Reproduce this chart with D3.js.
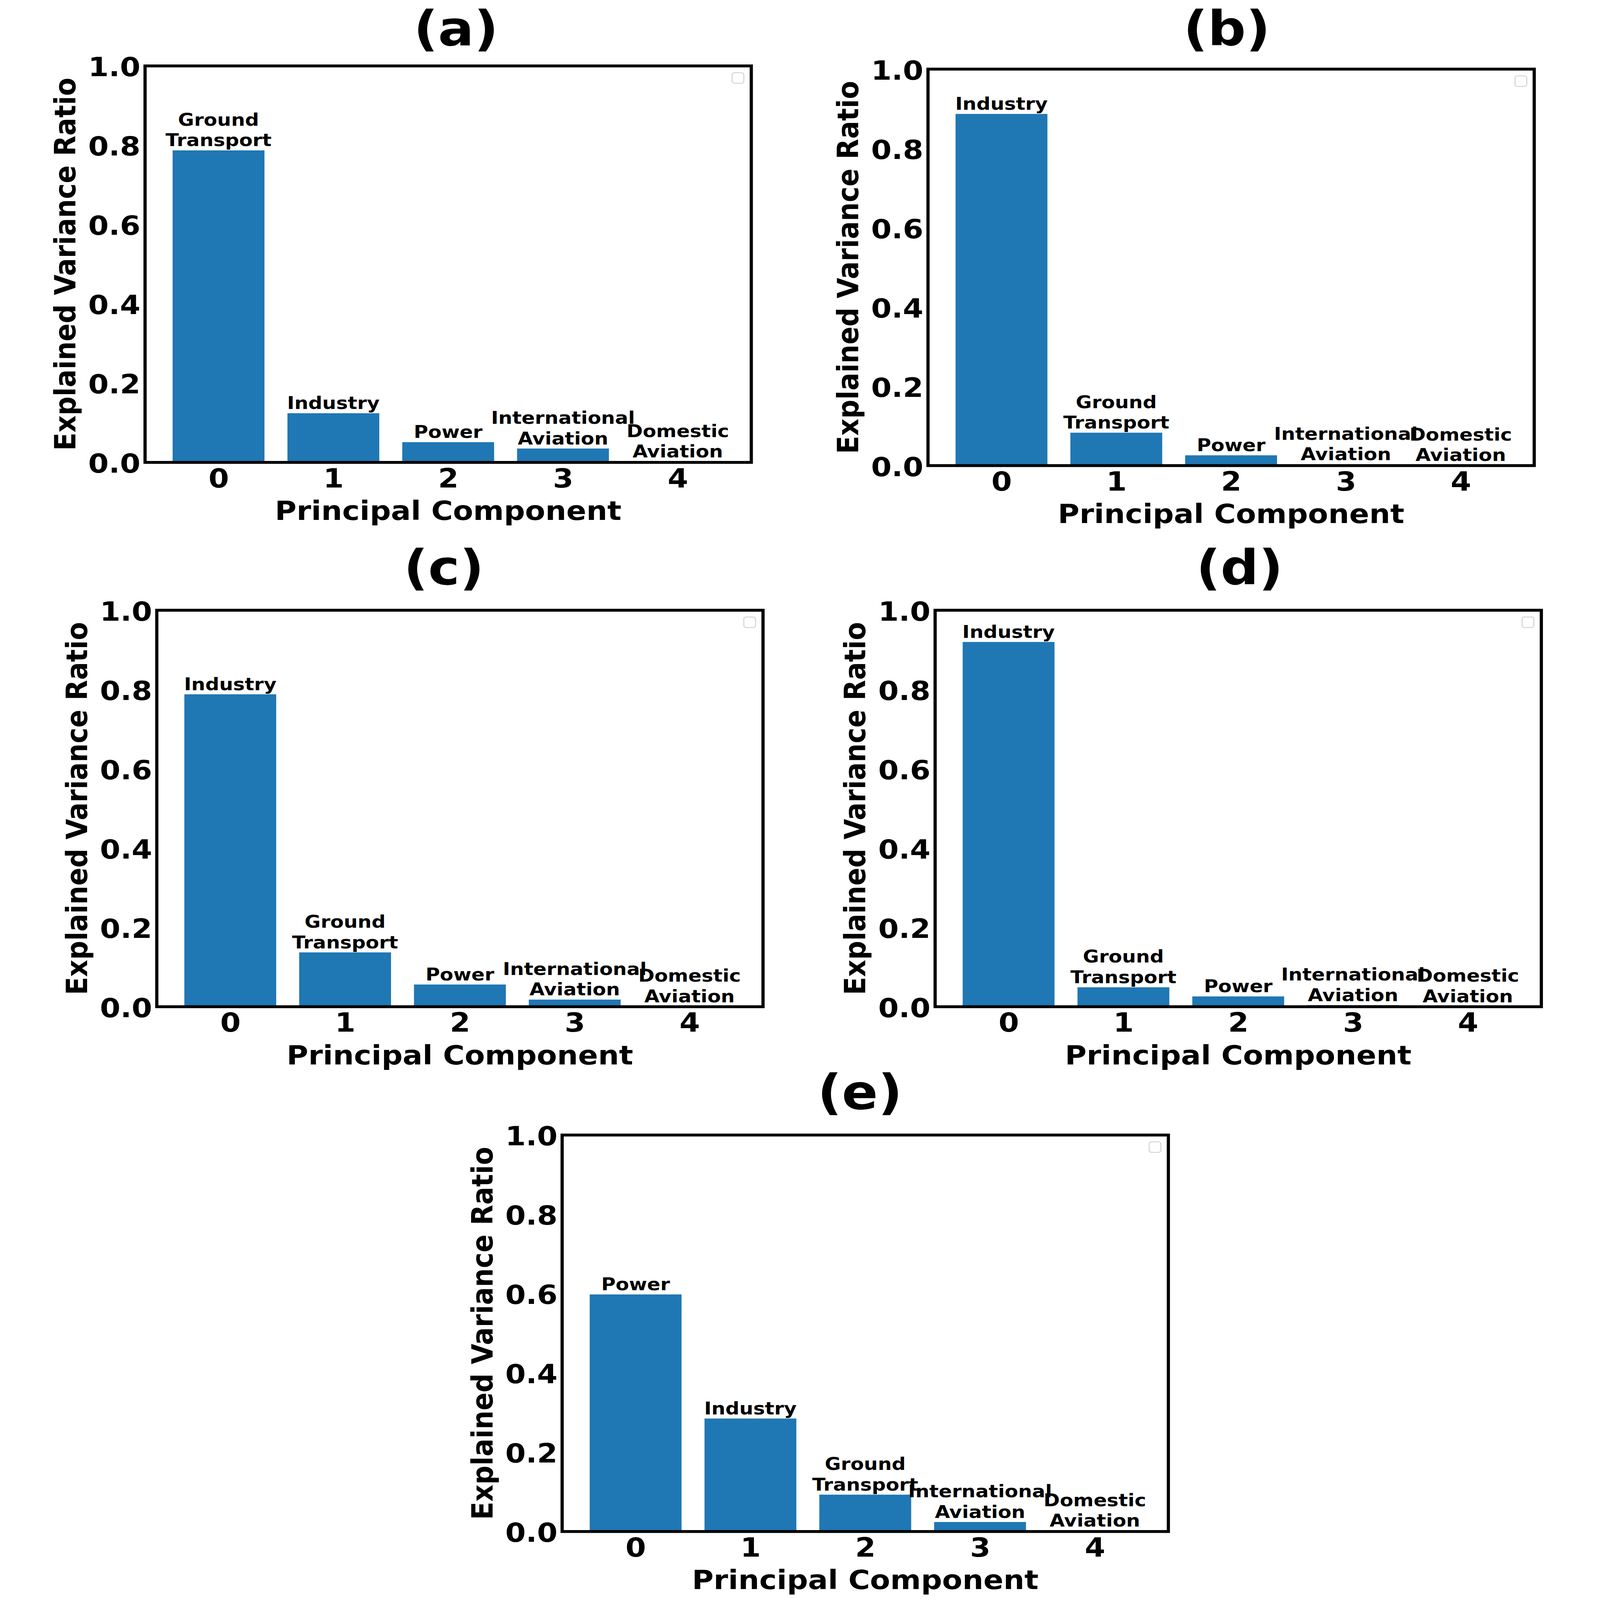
<!DOCTYPE html>
<html>
<head>
<meta charset="utf-8">
<script src="https://cdn.jsdelivr.net/npm/d3@7"></script>
<style>
  html, body { margin: 0; padding: 0; background: #ffffff; overflow: hidden; }
  #chart { display: block; width: 100vw; height: 100vh; }
  text { font-family: "DejaVu Sans", sans-serif; font-weight: bold; }
</style>
</head>
<body>
<svg id="chart"></svg>
<script>
// ---------------- DATA ----------------
const panelTitles = ["(a)", "(b)", "(c)", "(d)", "(e)"];
const componentTicks = [0, 1, 2, 3, 4];
const componentTickLabels = ["0", "1", "2", "3", "4"];
const yTicks = [0.0, 0.2, 0.4, 0.6, 0.8, 1.0];

const labelsA = ["Ground\nTransport", "Industry", "Power", "International\nAviation", "Domestic\nAviation"];
const valuesA = [0.787, 0.124, 0.051, 0.035, 0.002];

const labelsB = ["Industry", "Ground\nTransport", "Power", "International\nAviation", "Domestic\nAviation"];
const valuesB = [0.887, 0.083, 0.026, 0.003, 0.001];

const labelsC = ["Industry", "Ground\nTransport", "Power", "International\nAviation", "Domestic\nAviation"];
const valuesC = [0.788, 0.137, 0.056, 0.018, 0.001];

const labelsD = ["Industry", "Ground\nTransport", "Power", "International\nAviation", "Domestic\nAviation"];
const valuesD = [0.920, 0.049, 0.026, 0.004, 0.001];

const labelsE = ["Power", "Industry", "Ground\nTransport", "International\nAviation", "Domestic\nAviation"];
const valuesE = [0.598, 0.285, 0.093, 0.024, 0.002];

const xLabelText = "Principal Component";
const yLabelText = "Explained Variance Ratio";

// ---------------- LAYOUT / STYLE ----------------
const W = 4500, H = 5000;
const PW = 1705, PH = 1239;
const layout = [
  { left: 408,  top: 206,  titleShift: 22 },
  { left: 2610, top: 216,  titleShift: -12 },
  { left: 441,  top: 1907, titleShift: -45 },
  { left: 2630, top: 1907, titleShift: 4 },
  { left: 1581, top: 3547, titleShift: -15 }
];
const panels = [
  { labels: labelsA, values: valuesA },
  { labels: labelsB, values: valuesB },
  { labels: labelsC, values: valuesC },
  { labels: labelsD, values: valuesD },
  { labels: labelsE, values: valuesE }
];
const barColor = "#1f77b4";
const tickFont = 83, labelFont = 83, titleFont = 150, barLabelFont = 55;

// The drawing is scaled to fill the whole window
const svg = d3.select("#chart")
  .attr("viewBox", `0 0 ${W} ${H}`)
  .attr("preserveAspectRatio", "none");
svg.append("rect").attr("width", W).attr("height", H).attr("fill", "#ffffff");

panels.forEach((p, i) => {
  const L = layout[i];
  const g = svg.append("g").attr("transform", `translate(${L.left},${L.top})`);

  const x = d3.scaleLinear().domain([-0.64, 4.64]).range([0, PW]);
  const y = d3.scaleLinear().domain([0, 1]).range([PH, 0]);

  // bars
  g.selectAll("rect.bar").data(p.values).enter().append("rect")
    .attr("class", "bar")
    .attr("x", (d, k) => x(componentTicks[k] - 0.4))
    .attr("width", x(0.8) - x(0))
    .attr("y", d => y(d))
    .attr("height", d => PH - y(d))
    .attr("fill", barColor);

  // bar labels (bottom of text box sits on the bar top)
  p.values.forEach((v, k) => {
    const lines = p.labels[k].split("\n");
    const baseY = y(v) - 0.236 * barLabelFont;
    const t = g.append("text")
      .attr("text-anchor", "middle")
      .attr("font-size", barLabelFont)
      .attr("fill", "#000");
    lines.forEach((ln, j) => {
      t.append("tspan")
        .attr("x", x(componentTicks[k]))
        .attr("y", baseY - (lines.length - 1 - j) * 64)
        .text(ln);
    });
  });

  // y axis
  const yAxis = g.append("g")
    .call(d3.axisLeft(y).tickValues(yTicks).tickFormat(d3.format(".1f")).tickSize(0).tickPadding(13));
  yAxis.select(".domain").remove();
  yAxis.selectAll("text").attr("font-size", tickFont).attr("fill", "#000")
    .attr("dy", null).attr("y", 32)
    .style("font-family", "DejaVu Sans").style("font-weight", "bold");

  // x axis
  const xAxis = g.append("g").attr("transform", `translate(0,${PH})`)
    .call(d3.axisBottom(x).tickValues(componentTicks).tickFormat((d, k) => componentTickLabels[k]).tickSize(0).tickPadding(19));
  xAxis.select(".domain").remove();
  xAxis.selectAll("text").attr("font-size", tickFont).attr("fill", "#000")
    .style("font-family", "DejaVu Sans").style("font-weight", "bold");

  // spines
  g.append("rect").attr("x", 0).attr("y", 0).attr("width", PW).attr("height", PH)
    .attr("fill", "none").attr("stroke", "#000").attr("stroke-width", 9);

  // empty legend frame
  g.append("rect").attr("x", PW - 54).attr("y", 21).attr("width", 33).attr("height", 33)
    .attr("rx", 7).attr("fill", "#ffffff").attr("fill-opacity", 0.8)
    .attr("stroke", "#d5d5d5").attr("stroke-width", 3);

  // title (kept fully inside the page)
  const titleBase = Math.max(L.top - 81, 142) - L.top;
  g.append("text").attr("x", PW / 2 + L.titleShift).attr("y", titleBase)
    .attr("text-anchor", "middle").attr("font-size", titleFont).attr("fill", "#000")
    .text(panelTitles[i]);

  // x label
  g.append("text").attr("x", PW / 2).attr("y", PH + 180)
    .attr("text-anchor", "middle").attr("font-size", labelFont).attr("fill", "#000")
    .text(xLabelText);

  // y label
  g.append("text")
    .attr("transform", `translate(${-196},${PH / 2}) rotate(-90)`)
    .attr("text-anchor", "middle").attr("font-size", labelFont).attr("fill", "#000")
    .text(yLabelText);
});
</script>
</body>
</html>
